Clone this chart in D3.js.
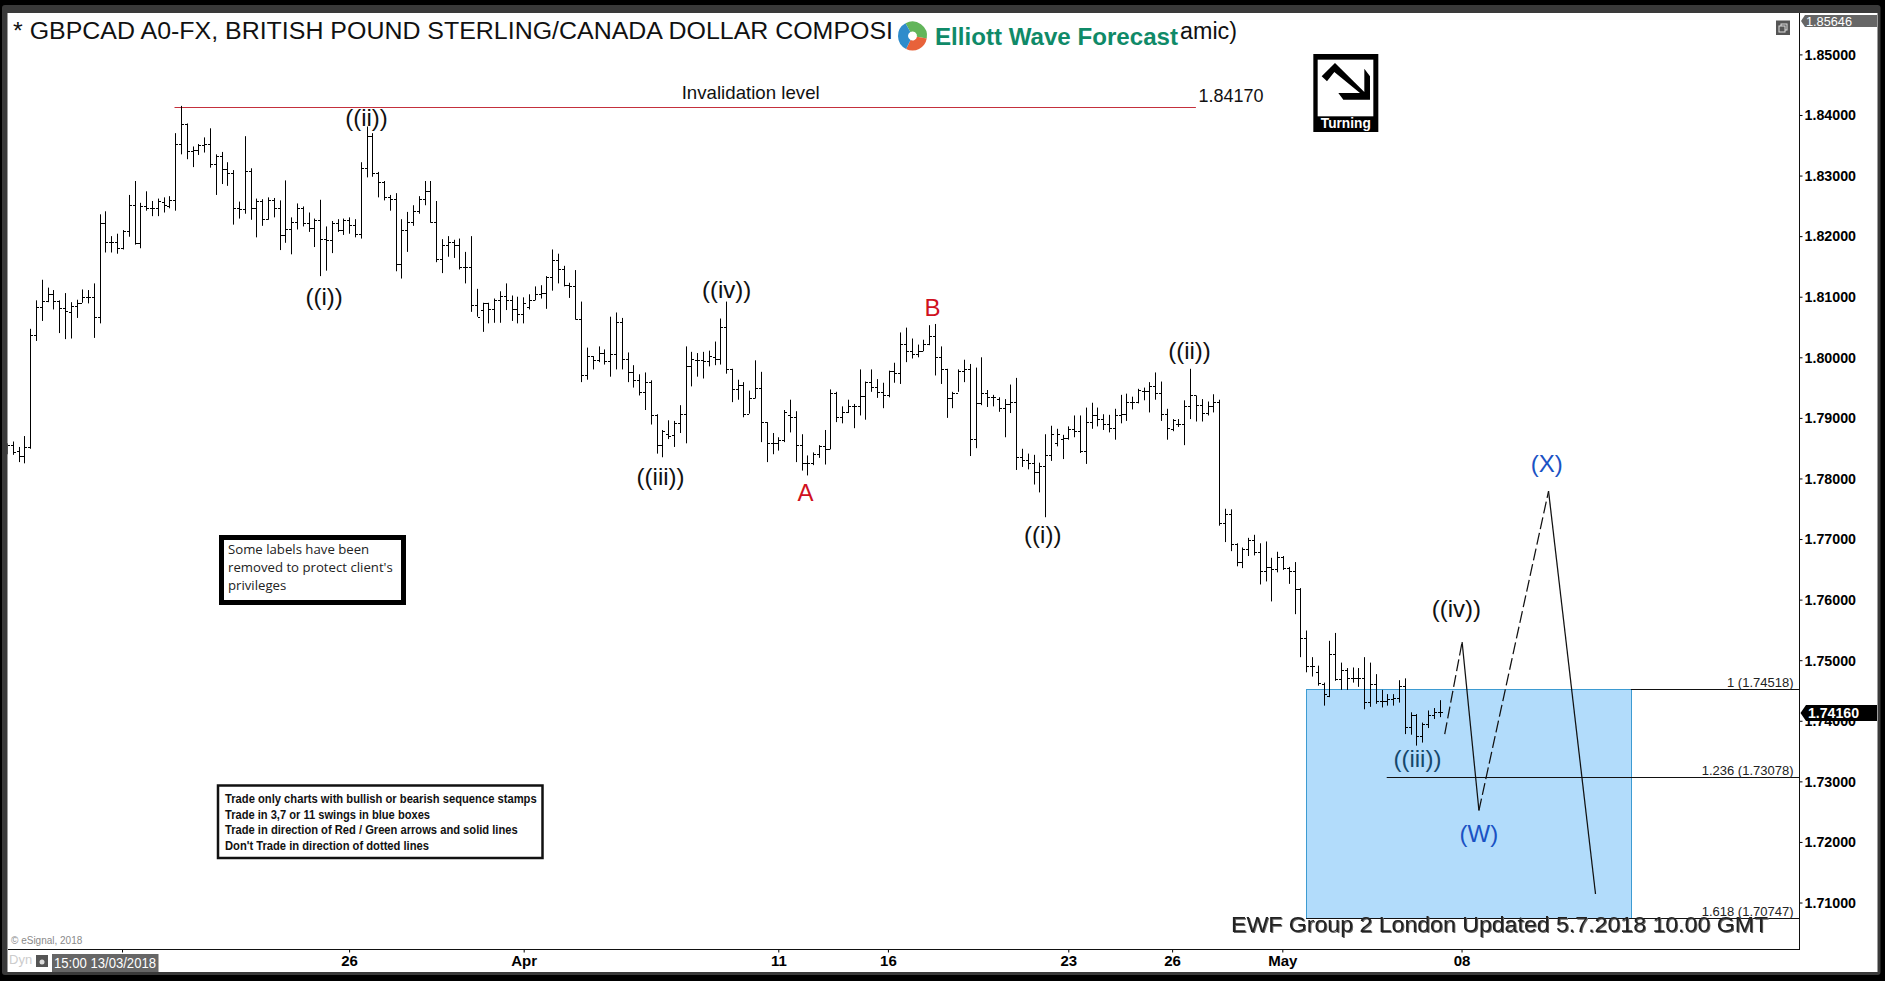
<!DOCTYPE html>
<html>
<head>
<meta charset="utf-8">
<script src="https://cdn.jsdelivr.net/npm/d3@7"></script>
<style>
html, body { margin: 0; padding: 0; background: #000; overflow: hidden; }
svg { display: block; }
text { font-family: "Liberation Sans", Arial, sans-serif; }
.narrow { font-family: "Liberation Sans Narrow", "Liberation Sans", sans-serif; }
.yAxis text, .xAxis text { font-family: "Liberation Sans Narrow", "Liberation Sans", sans-serif; font-weight: bold; font-size: 15px; fill: #000; }
.yAxis path, .xAxis path { display: none; }
.yAxis line, .xAxis line { stroke: #000; }
</style>
</head>
<body>
<div id="chart"></div>
<script>
// price bars, oldest first
var highs = [1.7858,
1.7861,1.7852,1.7870,1.8047,1.8094,1.8128,1.8115,1.8111,1.8094,1.8106,
1.8091,1.8095,1.8112,1.8111,1.8122,1.8236,1.8241,1.8200,1.8204,1.8210,
1.8268,1.8291,1.8255,1.8274,1.8258,1.8262,1.8264,1.8266,1.8370,1.8415,
1.8386,1.8348,1.8352,1.8363,1.8378,1.8335,1.8339,1.8322,1.8309,1.8257,
1.8365,1.8312,1.8262,1.8261,1.8264,1.8263,1.8259,1.8292,1.8231,1.8254,
1.8249,1.8239,1.8229,1.8260,1.8216,1.8225,1.8228,1.8229,1.8231,1.8228,
1.8322,1.8381,1.8370,1.8306,1.8291,1.8268,1.8271,1.8228,1.8240,1.8251,
1.8266,1.8291,1.8291,1.8258,1.8195,1.8200,1.8194,1.8196,1.8174,1.8200,
1.8113,1.8090,1.8090,1.8097,1.8109,1.8122,1.8102,1.8100,1.8099,1.8104,
1.8117,1.8119,1.8134,1.8178,1.8171,1.8151,1.8123,1.8144,1.8092,1.8016,
1.8002,1.8018,1.8013,1.8067,1.8074,1.8065,1.8008,1.7987,1.7972,1.7975,
1.7962,1.7906,1.7880,1.7896,1.7895,1.7921,1.8018,1.8009,1.8007,1.8009,
1.8011,1.8026,1.8064,1.8092,1.7981,1.7963,1.7959,1.7945,1.7995,1.7976,
1.7893,1.7875,1.7868,1.7913,1.7930,1.7911,1.7873,1.7838,1.7843,1.7855,
1.7880,1.7947,1.7943,1.7919,1.7930,1.7923,1.7980,1.7960,1.7980,1.7964,
1.7958,1.7978,1.7991,1.8041,1.8049,1.8031,1.8021,1.8029,1.8053,1.8055,
1.8018,1.7981,1.7943,1.7980,1.7996,1.7989,1.7983,1.8000,1.7946,1.7938,
1.7934,1.7931,1.7955,1.7966,1.7849,1.7841,1.7839,1.7826,1.7873,1.7887,
1.7882,1.7872,1.7886,1.7904,1.7904,1.7917,1.7925,1.7917,1.7906,1.7905,
1.7915,1.7938,1.7940,1.7935,1.7948,1.7950,1.7959,1.7975,1.7960,1.7915,
1.7898,1.7898,1.7929,1.7981,1.7937,1.7931,1.7927,1.7939,1.7930,1.7750,
1.7749,1.7693,1.7686,1.7702,1.7707,1.7693,1.7696,1.7669,1.7679,1.7672,
1.7654,1.7662,1.7619,1.7549,1.7505,1.7491,1.7463,1.7532,1.7545,1.7496,
1.7487,1.7488,1.7487,1.7505,1.7496,1.7477,1.7451,1.7444,1.7444,1.7467,
1.7470,1.7414,1.7411,1.7397,1.7417,1.7421,1.7434];

var lows = [1.7840,
1.7839,1.7827,1.7825,1.7849,1.8027,1.8060,1.8091,1.8079,1.8040,1.8030,
1.8031,1.8065,1.8090,1.8089,1.8032,1.8056,1.8173,1.8173,1.8171,1.8178,
1.8199,1.8186,1.8180,1.8242,1.8233,1.8233,1.8239,1.8246,1.8242,1.8335,
1.8327,1.8314,1.8334,1.8338,1.8313,1.8268,1.8286,1.8283,1.8219,1.8229,
1.8237,1.8227,1.8198,1.8217,1.8227,1.8231,1.8177,1.8189,1.8170,1.8211,
1.8216,1.8207,1.8182,1.8134,1.8143,1.8172,1.8207,1.8202,1.8204,1.8198,
1.8196,1.8297,1.8298,1.8264,1.8259,1.8242,1.8142,1.8130,1.8174,1.8217,
1.8237,1.8251,1.8222,1.8157,1.8139,1.8166,1.8164,1.8145,1.8122,1.8075,
1.8067,1.8042,1.8056,1.8057,1.8057,1.8078,1.8060,1.8056,1.8056,1.8079,
1.8094,1.8097,1.8080,1.8110,1.8122,1.8117,1.8098,1.8062,1.7959,1.7963,
1.7980,1.7992,1.7988,1.7968,1.7980,1.7980,1.7959,1.7950,1.7937,1.7913,
1.7889,1.7841,1.7835,1.7865,1.7852,1.7875,1.7858,1.7952,1.7968,1.7965,
1.7985,1.7987,1.7988,1.7973,1.7926,1.7930,1.7901,1.7907,1.7932,1.7860,
1.7827,1.7840,1.7846,1.7860,1.7876,1.7827,1.7813,1.7805,1.7822,1.7834,
1.7823,1.7848,1.7893,1.7891,1.7908,1.7883,1.7904,1.7897,1.7943,1.7933,
1.7916,1.7934,1.7958,1.7956,1.7992,1.7998,1.8000,1.8010,1.8020,1.7970,
1.7956,1.7900,1.7916,1.7943,1.7959,1.7837,1.7850,1.7921,1.7918,1.7919,
1.7910,1.7868,1.7908,1.7814,1.7819,1.7815,1.7790,1.7777,1.7736,1.7829,
1.7853,1.7832,1.7864,1.7868,1.7842,1.7824,1.7882,1.7886,1.7880,1.7876,
1.7864,1.7891,1.7895,1.7914,1.7924,1.7929,1.7909,1.7930,1.7895,1.7864,
1.7878,1.7885,1.7855,1.7898,1.7894,1.7894,1.7904,1.7909,1.7722,1.7695,
1.7680,1.7655,1.7652,1.7672,1.7673,1.7625,1.7630,1.7597,1.7645,1.7649,
1.7626,1.7576,1.7505,1.7480,1.7473,1.7458,1.7425,1.7439,1.7466,1.7451,
1.7451,1.7463,1.7456,1.7419,1.7423,1.7428,1.7422,1.7425,1.7425,1.7430,
1.7378,1.7377,1.7359,1.7364,1.7388,1.7403,1.7406];

var opens = [1.7855,
1.7855,1.7845,1.7837,1.7852,1.8036,1.8083,1.8093,1.8104,1.8093,1.8082,
1.8075,1.8084,1.8089,1.8100,1.8100,1.8067,1.8222,1.8190,1.8190,1.8180,
1.8209,1.8251,1.8188,1.8249,1.8247,1.8247,1.8257,1.8250,1.8259,1.8352,
1.8385,1.8340,1.8343,1.8350,1.8352,1.8319,1.8333,1.8311,1.8305,1.8247,
1.8244,1.8307,1.8246,1.8258,1.8229,1.8259,1.8246,1.8202,1.8211,1.8224,
1.8247,1.8222,1.8213,1.8226,1.8196,1.8193,1.8222,1.8210,1.8226,1.8218,
1.8204,1.8313,1.8365,1.8305,1.8290,1.8264,1.8261,1.8154,1.8210,1.8224,
1.8242,1.8262,1.8274,1.8224,1.8163,1.8185,1.8191,1.8186,1.8149,1.8149,
1.8087,1.8078,1.8089,1.8079,1.8094,1.8102,1.8095,1.8079,1.8071,1.8083,
1.8095,1.8104,1.8106,1.8133,1.8161,1.8145,1.8120,1.8117,1.8064,1.7970,
1.8002,1.7996,1.8007,1.7994,1.8005,1.8058,1.7998,1.7976,1.7963,1.7943,
1.7959,1.7904,1.7855,1.7874,1.7871,1.7892,1.7907,1.7986,1.7996,1.7996,
1.7994,1.8000,1.7998,1.8050,1.7980,1.7948,1.7955,1.7907,1.7933,1.7949,
1.7893,1.7858,1.7858,1.7863,1.7904,1.7902,1.7855,1.7826,1.7825,1.7840,
1.7854,1.7849,1.7941,1.7902,1.7909,1.7919,1.7919,1.7936,1.7959,1.7951,
1.7943,1.7938,1.7977,1.7974,1.8022,1.8011,1.8006,1.8011,1.8022,1.8035,
1.8000,1.7981,1.7933,1.7941,1.7978,1.7980,1.7865,1.7924,1.7941,1.7934,
1.7931,1.7917,1.7923,1.7926,1.7835,1.7830,1.7826,1.7811,1.7820,1.7839,
1.7858,1.7865,1.7867,1.7882,1.7879,1.7846,1.7894,1.7904,1.7898,1.7890,
1.7884,1.7904,1.7906,1.7927,1.7927,1.7945,1.7944,1.7952,1.7941,1.7906,
1.7882,1.7890,1.7890,1.7919,1.7937,1.7921,1.7908,1.7919,1.7926,1.7726,
1.7741,1.7692,1.7662,1.7684,1.7699,1.7678,1.7647,1.7654,1.7651,1.7670,
1.7652,1.7648,1.7617,1.7537,1.7491,1.7480,1.7460,1.7441,1.7510,1.7469,
1.7484,1.7470,1.7470,1.7470,1.7431,1.7460,1.7433,1.7433,1.7436,1.7438,
1.7458,1.7389,1.7410,1.7375,1.7395,1.7410,1.7414];

var closes = [1.7855,
1.7844,1.7837,1.7852,1.8036,1.8083,1.8093,1.8104,1.8093,1.8082,1.8076,
1.8084,1.8089,1.8100,1.8100,1.8067,1.8222,1.8190,1.8190,1.8180,1.8209,
1.8251,1.8188,1.8249,1.8247,1.8247,1.8258,1.8251,1.8259,1.8352,1.8385,
1.8340,1.8343,1.8350,1.8352,1.8319,1.8333,1.8311,1.8305,1.8247,1.8244,
1.8307,1.8246,1.8258,1.8229,1.8259,1.8246,1.8202,1.8211,1.8224,1.8247,
1.8222,1.8213,1.8226,1.8196,1.8193,1.8222,1.8210,1.8226,1.8218,1.8204,
1.8313,1.8365,1.8305,1.8290,1.8264,1.8261,1.8154,1.8210,1.8224,1.8242,
1.8262,1.8274,1.8224,1.8163,1.8185,1.8191,1.8186,1.8149,1.8149,1.8087,
1.8067,1.8089,1.8079,1.8094,1.8102,1.8094,1.8079,1.8071,1.8090,1.8095,
1.8104,1.8106,1.8133,1.8161,1.8145,1.8120,1.8117,1.8064,1.7970,1.8002,
1.7996,1.8007,1.7994,1.8005,1.8058,1.7998,1.7976,1.7963,1.7943,1.7959,
1.7904,1.7855,1.7879,1.7870,1.7892,1.7907,1.7986,1.7998,1.7996,1.7994,
1.8002,1.7998,1.8050,1.7980,1.7948,1.7955,1.7907,1.7933,1.7949,1.7893,
1.7858,1.7858,1.7863,1.7909,1.7902,1.7855,1.7826,1.7825,1.7840,1.7854,
1.7849,1.7941,1.7902,1.7909,1.7919,1.7919,1.7936,1.7959,1.7951,1.7943,
1.7938,1.7977,1.7974,1.8022,1.8011,1.8006,1.8011,1.8022,1.8035,1.8000,
1.7981,1.7933,1.7941,1.7978,1.7980,1.7865,1.7924,1.7941,1.7934,1.7934,
1.7917,1.7923,1.7926,1.7835,1.7830,1.7826,1.7811,1.7820,1.7839,1.7874,
1.7873,1.7867,1.7882,1.7879,1.7846,1.7894,1.7904,1.7898,1.7890,1.7884,
1.7904,1.7906,1.7927,1.7927,1.7946,1.7944,1.7952,1.7941,1.7906,1.7884,
1.7897,1.7890,1.7919,1.7937,1.7921,1.7908,1.7919,1.7926,1.7726,1.7741,
1.7692,1.7662,1.7684,1.7699,1.7678,1.7647,1.7654,1.7651,1.7670,1.7652,
1.7648,1.7617,1.7537,1.7491,1.7491,1.7462,1.7444,1.7510,1.7469,1.7484,
1.7470,1.7470,1.7470,1.7431,1.7460,1.7433,1.7433,1.7436,1.7437,1.7458,
1.7389,1.7410,1.7375,1.7395,1.7410,1.7414,1.7414];

// axes
var priceTicks = [1.71,1.72,1.73,1.74,1.75,1.76,1.77,1.78,1.79,1.80,1.81,1.82,1.83,1.84,1.85];
var dateTickBars = [19.85,59,89.1,133,151.9,183,200.9,219.9,250.8];
var dateTickLabels = ["","26","Apr","11","16","23","26","May","08"];

// wave labels
var waveNames = ["((i))","((ii))","((iv))","((iii))","A","B","((i))","((ii))","((iv))","((iii))","(W)","(X)"];
var waveBars = [54.7,62,124.1,112.7,137.7,159.6,178.6,203.9,249.9,243.2,253.8,265.5];
var wavePrices = [1.8086,1.8382,1.8098,1.7789,1.7763,1.8068,1.7693,1.7997,1.7572,1.7323,1.7200,1.7810];
var waveColors = ["#111","#111","#111","#111","#d01020","#d01020","#111","#111","#111","#15486c","#1a52c4","#1a52c4"];

// projected path after the last bar
var pathBars = [247.9,250.9,253.8,265.8,273.9];
var pathPrices = [1.7378,1.7530,1.7252,1.7779,1.7114];
var pathDashed = [true,false,true,false];

// levels
var invalidationPrice = 1.8413;
var fibRatios = ["1","1.236","1.618"];
var fibPrices = [1.74518,1.73078,1.70747];
var fibStartBars = [280,237.9,224];
var boxBars = [224,280];
var lastPrice = 1.74160;
var topPrice = 1.85646;

var width = 1885, height = 981;
var plotLeft = 7.5, plotTop = 13, plotRight = 1799.5, plotBottom = 949.5, frameRight = 1877.5, frameBottom = 972;

var svg = d3.select("#chart").append("svg").attr("width", width).attr("height", height);

var x = d3.scaleLinear().domain([0, 247]).range([6.9, 1439.5]);
var y = d3.scaleLinear().domain([1.85, 1.71]).range([54.4, 54.4 + 0.14 * 6058]);

function levelY(p) {
    return Math.round(y(p)) + 0.5;
}

function addText(parent, px, py, txt, size, opts) {
    opts = opts || {};
    var t = parent.append("text")
        .attr("x", px)
        .attr("y", py)
        .attr("font-size", size + "px")
        .attr("fill", opts.fill || "#111")
        .attr("text-anchor", opts.anchor || "start")
        .text(txt);
    if (opts.weight) t.attr("font-weight", opts.weight);
    if (opts.cls) t.attr("class", opts.cls);
    if (opts.family) t.style("font-family", opts.family);
    if (opts.len) t.attr("textLength", opts.len).attr("lengthAdjust", "spacingAndGlyphs");
    return t;
}

// window background
svg.append("rect").attr("width", width).attr("height", height).attr("fill", "#000");
svg.append("rect").attr("x", 2).attr("y", 5).attr("width", frameRight - 2 + 3).attr("height", frameBottom - 5 + 3).attr("rx", 3).attr("fill", "#3a3a3a");
svg.append("rect").attr("x", plotLeft).attr("y", plotTop).attr("width", frameRight - plotLeft).attr("height", frameBottom - plotTop).attr("fill", "#fff");

var clip = svg.append("clipPath").attr("id", "plotClip").append("rect")
    .attr("x", plotLeft).attr("y", plotTop).attr("width", plotRight - plotLeft).attr("height", plotBottom - plotTop);

var plot = svg.append("g").attr("clip-path", "url(#plotClip)");

// blue box
plot.append("rect")
    .attr("x", Math.round(x(boxBars[0])) + 0.5)
    .attr("y", levelY(fibPrices[0]))
    .attr("width", Math.round(x(boxBars[1]) - x(boxBars[0])))
    .attr("height", levelY(fibPrices[2]) - levelY(fibPrices[0]))
    .attr("fill", "#b2dcfb")
    .attr("stroke", "#3d9bd2")
    .attr("stroke-width", 1);

// fib level lines
plot.selectAll(".fib").data(fibPrices).enter().append("line")
    .attr("class", "fib")
    .attr("x1", function(d, i) { return x(fibStartBars[i]); })
    .attr("x2", plotRight)
    .attr("y1", function(d) { return levelY(d); })
    .attr("y2", function(d) { return levelY(d); })
    .attr("stroke", "#111")
    .attr("stroke-width", 1);

// invalidation line
plot.append("line")
    .attr("x1", x(28.9)).attr("x2", x(205))
    .attr("y1", levelY(invalidationPrice)).attr("y2", levelY(invalidationPrice))
    .attr("stroke", "#c4303c")
    .attr("stroke-width", 1);

// OHLC bars
var barGroup = plot.selectAll(".bar").data(highs).enter().append("g").attr("class", "bar");
barGroup.append("line")
    .attr("x1", function(d, i) { return Math.round(x(i)) + 0.5; })
    .attr("x2", function(d, i) { return Math.round(x(i)) + 0.5; })
    .attr("y1", function(d) { return y(d); })
    .attr("y2", function(d, i) { return y(lows[i]); })
    .attr("stroke", "#000")
    .attr("stroke-width", 1);
barGroup.append("line")
    .attr("x1", function(d, i) { return Math.round(x(i)) - 2; })
    .attr("x2", function(d, i) { return Math.round(x(i)); })
    .attr("y1", function(d, i) { return Math.round(y(opens[i])) + 0.5; })
    .attr("y2", function(d, i) { return Math.round(y(opens[i])) + 0.5; })
    .attr("stroke", "#000")
    .attr("stroke-width", 1);
barGroup.append("line")
    .attr("x1", function(d, i) { return Math.round(x(i)) + 1; })
    .attr("x2", function(d, i) { return Math.round(x(i)) + 3; })
    .attr("y1", function(d, i) { return Math.round(y(closes[i])) + 0.5; })
    .attr("y2", function(d, i) { return Math.round(y(closes[i])) + 0.5; })
    .attr("stroke", "#000")
    .attr("stroke-width", 1);

// projected path
plot.selectAll(".path").data(pathDashed).enter().append("line")
    .attr("class", "path")
    .attr("x1", function(d, i) { return x(pathBars[i]); })
    .attr("y1", function(d, i) { return y(pathPrices[i]); })
    .attr("x2", function(d, i) { return x(pathBars[i + 1]); })
    .attr("y2", function(d, i) { return y(pathPrices[i + 1]); })
    .attr("stroke", "#111")
    .attr("stroke-width", 1.25)
    .attr("stroke-dasharray", function(d) { return d ? "12,4" : null; });

// wave labels
svg.selectAll(".wave").data(waveNames).enter().append("text")
    .attr("class", "wave")
    .attr("x", function(d, i) { return x(waveBars[i]); })
    .attr("y", function(d, i) { return y(wavePrices[i]); })
    .attr("text-anchor", "middle")
    .attr("font-size", "24px")
    .attr("fill", function(d, i) { return waveColors[i]; })
    .text(function(d) { return d; });

// axes
var yAxis = d3.axisRight(y).tickValues(priceTicks).tickSize(3).tickPadding(2).tickFormat(d3.format(".5f"));
svg.append("g").attr("class", "yAxis").attr("transform", "translate(" + plotRight + ",0)").call(yAxis);
svg.selectAll(".yAxis text").attr("textLength", 51.5).attr("lengthAdjust", "spacingAndGlyphs");

var xAxis = d3.axisBottom(x).tickValues(dateTickBars).tickSize(3).tickPadding(3)
    .tickFormat(function(d, i) { return dateTickLabels[i]; });
svg.append("g").attr("class", "xAxis").attr("transform", "translate(0," + plotBottom + ")").call(xAxis);

svg.append("line").attr("x1", plotRight).attr("x2", plotRight).attr("y1", plotTop).attr("y2", plotBottom)
    .attr("stroke", "#111").attr("shape-rendering", "crispEdges");
svg.append("line").attr("x1", plotLeft).attr("x2", plotRight).attr("y1", plotBottom).attr("y2", plotBottom)
    .attr("stroke", "#111").attr("shape-rendering", "crispEdges");

// title
addText(svg, 13, 39, "* GBPCAD A0-FX, BRITISH POUND STERLING/CANADA DOLLAR COMPOSI", 23, {len: 880});
addText(svg, 1180, 39, "amic)", 23, {len: 57, cls: "narrow"});

// logo
var logo = svg.append("g").attr("transform", "translate(912.5,36)");
var logoArc = d3.arc().innerRadius(4.5).outerRadius(14.5);
[["#62b55a", -0.5, 1.75], ["#e8623a", 1.75, 3.6], ["#2f8ccb", 3.6, 5.78]].forEach(function(b) {
    logo.append("path").attr("d", logoArc({startAngle: b[1], endAngle: b[2]})).attr("fill", b[0]);
});
addText(svg, 935, 45, "Elliott Wave Forecast", 24, {weight: "bold", fill: "#0f8a68", len: 243});

// invalidation text
addText(svg, 681.7, 99, "Invalidation level", 19, {len: 138});
addText(svg, 1198.6, 101.5, "1.84170", 18, {len: 65, cls: "narrow"});

// turning stamp
var stamp = svg.append("g").attr("transform", "translate(1305,48) scale(0.3333)");
stamp.append("rect").attr("x", 25).attr("y", 18).attr("width", 195).attr("height", 234).attr("fill", "#000");
stamp.append("rect").attr("x", 38).attr("y", 35).attr("width", 167).attr("height", 170).attr("fill", "#fff");
stamp.append("polygon").attr("points", "50,85 90,45 178,132 178,62 195,85 195,155 115,155 100,135 165,135 88,72 66,100").attr("fill", "#000");
addText(svg, 1345.8, 128, "Turning", 14.5, {weight: "bold", fill: "#fff", anchor: "middle", len: 50});

// fib labels
fibPrices.forEach(function(p, i) {
    addText(svg, 1793.5, levelY(p) - 2.5, fibRatios[i] + " (" + d3.format(".5f")(p) + ")", 13, {anchor: "end", cls: "narrow", fill: "#222"});
});

// note boxes
svg.append("rect").attr("x", 221.5).attr("y", 537.5).attr("width", 182).attr("height", 65).attr("fill", "#fff").attr("stroke", "#000").attr("stroke-width", 5);
["Some labels have been", "removed to protect client's", "privileges"].forEach(function(s, i) {
    addText(svg, 228, 554.3 + i * 18, s, 13.2, {family: "'Open Sans', sans-serif", fill: "#222"});
});
svg.append("rect").attr("x", 218).attr("y", 785.5).attr("width", 324.5).attr("height", 72.5).attr("fill", "#fff").attr("stroke", "#111").attr("stroke-width", 2.5);
var ruleLens = [311.7, 205, 292.7, 204];
["Trade only charts with bullish or bearish sequence stamps", "Trade in 3,7 or 11 swings in blue boxes", "Trade in direction of Red / Green arrows and solid lines", "Don't Trade in direction of dotted lines"].forEach(function(s, i) {
    addText(svg, 225, 803.3 + i * 15.4, s, 12, {weight: "bold", len: ruleLens[i]});
});

// footer line
addText(svg, 1231, 931.5, "EWF Group 2 London Updated 5.7.2018 10.00 GMT", 22, {fill: "#222", len: 537})
    .style("filter", "drop-shadow(1px 1px 0.6px #666)");

// top price tag, pinned to the upper edge of the scale
svg.append("polygon")
    .attr("points", "1801,21 1805,15 1877,15 1877,27 1805,27")
    .attr("fill", "#666");
addText(svg, 1806, 25.5, d3.format(".5f")(topPrice), 13, {fill: "#fff", cls: "narrow", len: 46});

// last price tag
svg.append("polygon")
    .attr("points", function() { var p = y(lastPrice) + 2; return [[1800.5,p],[1806,p-8],[1877,p-8],[1877,p+8],[1806,p+8]].join(" "); })
    .attr("fill", "#000");
addText(svg, 1808, y(lastPrice) + 7, d3.format(".5f")(lastPrice), 15.5, {fill: "#fff", weight: "bold", cls: "narrow", len: 51});

// little window icon
svg.append("rect").attr("x", 1776).attr("y", 20.5).attr("width", 14).attr("height", 14.5).attr("fill", "#555");
svg.append("rect").attr("x", 1781).attr("y", 24).attr("width", 6).attr("height", 6).attr("fill", "none").attr("stroke", "#ddd");
svg.append("rect").attr("x", 1779).attr("y", 26).attr("width", 6).attr("height", 6).attr("fill", "#555").attr("stroke", "#ddd");

// bottom bar
addText(svg, 11, 944, "© eSignal, 2018", 10, {fill: "#8a8a8a"});
addText(svg, 9, 964, "Dyn", 13, {fill: "#ccc", cls: "narrow"});
svg.append("rect").attr("x", 36).attr("y", 955).attr("width", 12).attr("height", 12).attr("fill", "#555");
svg.append("circle").attr("cx", 42).attr("cy", 962).attr("r", 2.5).attr("fill", "#ddd");
svg.append("rect").attr("x", 52).attr("y", 954).attr("width", 106.5).attr("height", 18).attr("fill", "#666");
addText(svg, 54, 968, "15:00 13/03/2018", 14, {fill: "#fff", cls: "narrow", len: 102});
</script>
</body>
</html>
